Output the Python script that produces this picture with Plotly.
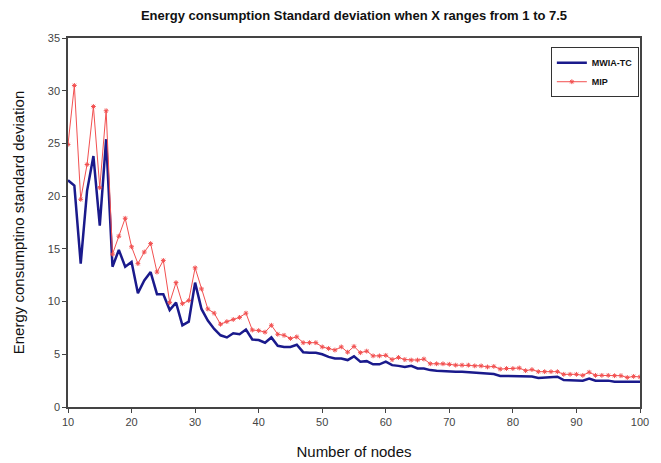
import plotly.graph_objects as go

nodes = list(range(10, 101))

mwia_tc = [21.5, 21.0, 13.6, 20.5, 23.8, 17.2, 25.4, 13.3, 14.9, 13.3,
           13.75, 10.8, 12.0, 12.8, 10.7, 10.7, 9.2, 9.9, 7.75, 8.1,
           11.8, 9.3, 8.2, 7.4, 6.8, 6.6, 7.0, 6.9, 7.35, 6.4,
           6.35, 6.1, 6.6, 5.8, 5.7, 5.7, 5.9, 5.2, 5.15, 5.15,
           5.0, 4.75, 4.6, 4.6, 4.45, 4.8, 4.3, 4.35, 4.05, 4.05,
           4.3, 3.97, 3.9, 3.8, 3.9, 3.65, 3.65, 3.5, 3.45, 3.4,
           3.4, 3.35, 3.35, 3.3, 3.2, 3.2, 3.1, 3.12, 2.95, 2.95,
           2.95, 2.9, 2.9, 2.9, 2.75, 2.78, 2.78, 2.87, 2.55, 2.55,
           2.55, 2.5, 2.7, 2.5, 2.5, 2.5, 2.4, 2.4, 2.4, 2.4,
           2.4]

mip = [24.9, 30.5, 19.7, 23.0, 28.5, 20.8, 28.1, 14.5, 16.2, 17.9,
       15.2, 13.6, 14.7, 15.5, 12.8, 13.9, 9.9, 11.8, 9.8, 10.1,
       13.2, 11.2, 9.3, 8.9, 7.85, 8.1, 8.3, 8.5, 8.9, 7.3,
       7.25, 7.1, 7.75, 6.9, 6.8, 6.5, 6.65, 6.1, 6.1, 6.1,
       5.7, 5.55, 5.4, 5.7, 5.2, 5.75, 5.15, 5.3, 4.85, 4.85,
       4.9, 4.5, 4.7, 4.5, 4.45, 4.45, 4.55, 4.1, 4.1, 4.1,
       4.05, 3.97, 3.97, 3.97, 3.9, 3.9, 3.8, 3.85, 3.6, 3.65,
       3.65, 3.7, 3.45, 3.55, 3.35, 3.35, 3.35, 3.35, 3.1, 3.1,
       3.1, 3.0, 3.3, 3.0, 3.0, 3.0, 2.97, 2.97, 2.8, 2.9,
       2.85]

x_ticks = list(range(10, 101, 10))
y_ticks = list(range(0, 36, 5))

fig = go.Figure()
fig.add_trace(go.Scatter(
    x=nodes, y=mwia_tc, name="<b>MWIA-TC</b>", mode="lines",
    line=dict(color="#1a1a8c", width=2.5)))
fig.add_trace(go.Scatter(
    x=nodes, y=mip, name="<b>MIP</b>", mode="lines+markers",
    line=dict(color="#f25050", width=1),
    marker=dict(symbol="asterisk-open", size=4, color="#f25050",
                line=dict(color="#f25050", width=1))))

axis_common = dict(
    showline=True, linecolor="#444444", linewidth=1.5, mirror=True,
    ticks="outside", ticklen=4, tickcolor="#444444",
    showgrid=False, zeroline=False, automargin=False,
    tickfont=dict(family="Arial, Liberation Sans", size=11, color="#444444"),
)

fig.update_layout(
    width=661, height=463,
    margin=dict(l=68, r=21, t=38, b=56),
    paper_bgcolor="white", plot_bgcolor="white",
    title=dict(text="<b>Energy consumption Standard deviation when X ranges from 1 to 7.5</b>",
               x=0.5, xref="paper", xanchor="center", y=0.967, yanchor="middle",
               font=dict(family="Arial, Liberation Sans", size=13, color="#111111")),
    xaxis=dict(range=[10, 100], tickvals=x_ticks,
               title=dict(text="Number of nodes", standoff=20,
                          font=dict(family="Arial, Liberation Sans", size=15, color="#111111")),
               **axis_common),
    yaxis=dict(range=[0, 35], tickvals=y_ticks,
               title=dict(text="Energy consumptino standard deviation", standoff=20,
                          font=dict(family="Arial, Liberation Sans", size=15, color="#111111")),
               **axis_common),
    legend=dict(x=0.998, xanchor="right", y=0.975, yanchor="top",
                bgcolor="white", bordercolor="#333333", borderwidth=1,
                font=dict(family="Arial, Liberation Sans", size=9, color="#111111"),
                itemwidth=30, tracegroupgap=0),
    showlegend=True,
)

fig.write_html("out.html")
